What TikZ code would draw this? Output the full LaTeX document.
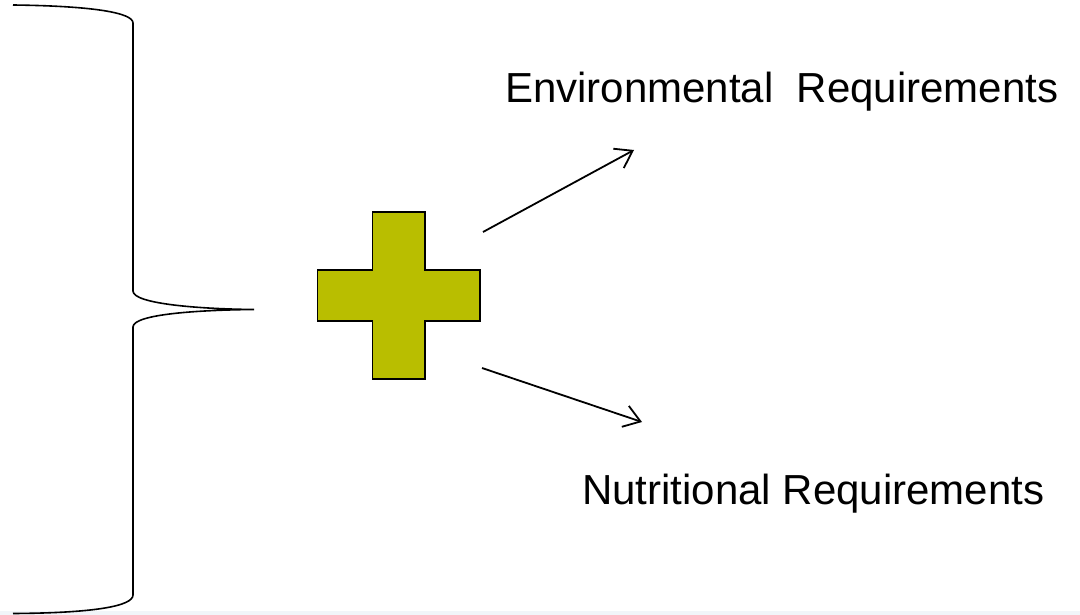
\documentclass[tikz,border=0pt]{standalone}
\usepackage{fontspec}
\setmainfont{Liberation Sans}
\usetikzlibrary{arrows.meta}
\definecolor{croix}{RGB}{185,190,0}
\definecolor{bande}{RGB}{241,245,249}
\tikzset{
  fleche/.style={line width=1.8pt,-{Straight Barb[length=16pt,width=22pt,line width=1.8pt]}},
  texte/.style={anchor=base west,inner sep=0pt,font=\fontsize{42}{50}\selectfont}
}
\begin{document}
\begin{tikzpicture}[x=1pt,y=-1pt]
\useasboundingbox (0,0) rectangle (1080,615);
\fill [bande] (0,611) rectangle (1080,615);
% accolade
\draw [line width=1.6pt] (13,5) .. controls (95,6) and (133,13) .. (133,23) -- (133,291)
  .. controls (133,304) and (200,309) .. (254,309.5)
  .. controls (200,310) and (133,314) .. (133,327) -- (133,595)
  .. controls (133,606) and (95,613) .. (13,613.5);
% croix
\draw [line width=1.5pt,fill=croix] (372.5,212) -- (425,212) -- (425,270) -- (480,270) -- (480,321)
  -- (425,321) -- (425,379) -- (372.5,379) -- (372.5,321) -- (317.5,321) -- (317.5,270)
  -- (372.5,270) -- cycle;
\node [texte] (env) at (505,103) {Environmental\ \ Requirements};
\node [texte] (nut) at (582,504) {Nutritional Requirements};
\coordinate (depart haut) at (483,232);
\coordinate (fin haut) at (634,150);
\coordinate (depart bas) at (482,368);
\coordinate (fin bas) at (642,422);
\draw [fleche] (depart haut) -- (fin haut);
\draw [fleche] (depart bas) -- (fin bas);
\end{tikzpicture}
\end{document}
